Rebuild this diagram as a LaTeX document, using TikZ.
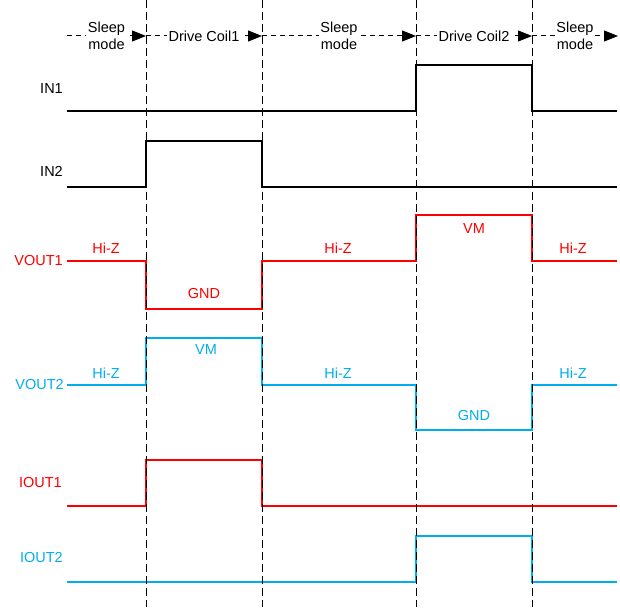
\documentclass[tikz,border=0pt]{standalone}
\usepackage{fontspec}
\setmainfont{Liberation Sans}
\usetikzlibrary{arrows.meta,positioning}
\definecolor{vred}{RGB}{255,0,0}
\definecolor{vblue}{RGB}{0,174,239}

\begin{document}
\begin{tikzpicture}[
    x=1pt, y=-1pt,
    font=\fontsize{14.5}{17.5}\selectfont,
    phase/.style={draw, dash pattern=on 5pt off 4pt, line width=1pt, -{Triangle[length=14pt,width=11pt]}},
    plabel/.style={fill=white, inner sep=1.5pt, align=center},
    wave/.style={line width=2pt},
    edgeline/.style={draw, dash pattern=on 8pt off 4pt, line width=0.8pt},
    sig/.style={anchor=east, inner sep=0pt},
    lvl/.style={inner sep=0pt}
]
\useasboundingbox (0,0) rectangle (620,607);

% phase boundaries
\coordinate (b0) at (67,36);
\coordinate (b1) at (146,36);
\coordinate (b2) at (262,36);
\coordinate (b3) at (416,36);
\coordinate (b4) at (532,36);
\coordinate (b5) at (618,36);

\path[phase] (b0) -- node[plabel] (sleepA) {Sleep\\mode} (b1);
\path[phase] (b1) -- node[plabel] (coilA) {Drive Coil1} (b2);
\path[phase] (b2) -- node[plabel] (sleepB) {Sleep\\mode} (b3);
\path[phase] (b3) -- node[plabel] (coilB) {Drive Coil2} (b4);
\path[phase] (b4) -- node[plabel] (sleepC) {Sleep\\mode} (b5);

% signal names
\node[sig] (in1) at (63,89) {IN1};
\node[sig] (in2) at (63,171) {IN2};
\node[sig, text=vred] (vout1) at (63,261) {VOUT1};
\node[sig, text=vblue] (vout2) at (64,385) {VOUT2};
\node[sig, text=vred] (iout1) at (62,483) {IOUT1};
\node[sig, text=vblue] (iout2) at (63,558) {IOUT2};

% waveforms
\draw[wave] (67,111) -- (416,111) -- (416,65) -- (532,65) -- (532,111) -- (617,111);
\draw[wave] (67,187) -- (146,187) -- (146,141) -- (262,141) -- (262,187) -- (617,187);
\draw[wave, vred] (67,261) -- (146,261) -- (146,309) -- (262,309) -- (262,261) -- (416,261)
    -- (416,215) -- (532,215) -- (532,261) -- (617,261);
\draw[wave, vblue] (67,385) -- (146,385) -- (146,338) -- (262,338) -- (262,385) -- (416,385)
    -- (416,430) -- (532,430) -- (532,385) -- (617,385);
\draw[wave, vred] (67,506) -- (146,506) -- (146,460) -- (262,460) -- (262,506) -- (617,506);
\draw[wave, vblue] (67,582) -- (416,582) -- (416,536) -- (532,536) -- (532,582) -- (617,582);

% output levels
\node[lvl, text=vred] (hizA) at (106,248) {Hi-Z};
\node[lvl, text=vred] (gndA) at (204,294) {GND};
\node[lvl, text=vred] (hizB) at (338,248) {Hi-Z};
\node[lvl, text=vred] (vmA) at (474,229) {VM};
\node[lvl, text=vred] (hizC) at (573,248) {Hi-Z};
\node[lvl, text=vblue] (hizD) at (106,373) {Hi-Z};
\node[lvl, text=vblue] (vmB) at (206,350) {VM};
\node[lvl, text=vblue] (hizE) at (338,373) {Hi-Z};
\node[lvl, text=vblue] (gndB) at (474,416) {GND};
\node[lvl, text=vblue] (hizF) at (573,373) {Hi-Z};

% phase edges
\foreach \i in {1,...,4}
    \draw[edgeline] (b\i |- 0,0) -- (b\i |- 0,607);

\end{tikzpicture}
\end{document}
